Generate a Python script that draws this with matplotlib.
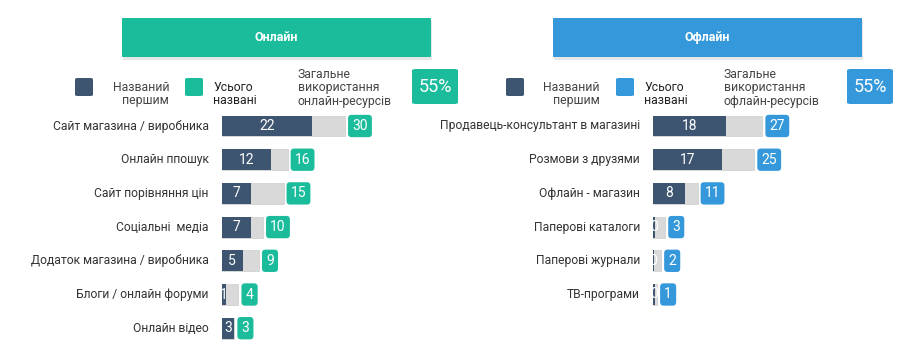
import matplotlib.pyplot as plt
from matplotlib.patches import FancyBboxPatch

plt.rcParams['font.family'] = ['Roboto', 'DejaVu Sans']

# online panel data
online_labels = ["Сайт магазина / виробника", "Онлайн ппошук", "Сайт порівняння цін",
                 "Соціальні  медіа", "Додаток магазина / виробника",
                 "Блоги / онлайн форуми", "Онлайн відео"]
online_first = [22, 12, 7, 7, 5, 1, 3]
online_total = [30, 16, 15, 10, 9, 4, 3]
online_share = "55%"

# offline panel data
offline_labels = ["Продавець-консультант в магазині", "Розмови з друзями",
                  "Офлайн - магазин", "Паперові каталоги", "Паперові журнали",
                  "ТВ-програми"]
offline_first = [18, 17, 8, 0.4, 0.2, 0.4]
offline_total = [27, 25, 11, 3, 2, 1]
offline_share = "55%"

DARK = "#3d5570"
TEAL = "#1abc9c"
BLUE = "#3498db"
GRAY = "#d9d9d9"
TXT = "#333333"

W, H = 907, 358
fig = plt.figure(figsize=(W / 100, H / 100), dpi=100)


def fx(x):
    return x / W


def fy(y):
    return 1 - y / H


def box(x0, y0, x1, y1, color, rad=3, z=1):
    p = FancyBboxPatch((fx(x0), fy(y1)), fx(x1 - x0), (y1 - y0) / H,
                       boxstyle="round,pad=0,rounding_size=%f" % (rad / W),
                       transform=fig.transFigure, facecolor=color,
                       edgecolor="none", zorder=z)
    fig.add_artist(p)


def panel(x0, accent, title, labels, first, total, share, kind, px_unit,
          note_dx, badge_dx):
    # header with a soft shadow
    box(x0 + 1, 20, x0 + 310, 60, "#e6e6e6", rad=1)
    box(x0, 18, x0 + 309, 57, accent, rad=1)
    fig.text(fx(x0 + 154.5), fy(37.5), title, color="white", fontsize=9,
             fontweight="bold", ha="center", va="center")

    # legend row
    lx = x0 - 47
    box(lx, 78, lx + 18, 96, DARK, rad=3)
    fig.text(fx(lx + 94), fy(94), "Названий\nпершим", ha="right", va="center",
             fontsize=8.8, color="#444444", linespacing=1.05)
    box(lx + 110, 78, lx + 128, 96, accent, rad=3)
    fig.text(fx(lx + 138), fy(94), "Усього\nназвані", ha="left", va="center",
             fontsize=8.8, color="#222222", linespacing=1.05)
    fig.text(fx(lx + note_dx), fy(88), "Загальне\nвикористання\n%s-ресурсів" % kind,
             ha="left", va="center", fontsize=8.8, color="#444444", linespacing=1.05)
    box(lx + badge_dx, 69, lx + badge_dx + 46, 104, accent, rad=4)
    fig.text(fx(lx + badge_dx + 23), fy(86.5), share, color="white", fontsize=13,
             ha="center", va="center")

    # bars
    n = len(labels)
    row = 33.7
    top = 126 - row / 2
    bar_x0 = x0 + 100
    width_px = 230
    ax = fig.add_axes([fx(bar_x0), fy(top + n * row), fx(width_px), n * row / H])
    ax.set_xlim(0, width_px / px_unit)
    ax.set_ylim(n - 0.5, -0.5)
    ax.axis("off")
    ys = list(range(n))
    ax.barh(ys, total, height=0.62, color=GRAY, edgecolor="#c4c4c4", linewidth=0.4)
    ax.barh(ys, first, height=0.62, color=DARK)
    for i in ys:
        ax.annotate(labels[i], xy=(0, i), xytext=(-9.5, 0), textcoords="offset points",
                    ha="right", va="center", fontsize=8.7, color=TXT)
        ax.text(first[i] / 2, i, str(round(first[i])), color="white", fontsize=10,
                ha="center", va="center")
        ax.annotate(str(total[i]), xy=(total[i], i), xytext=(5.2, 0),
                    textcoords="offset points", ha="left", va="center",
                    fontsize=10, color="white",
                    bbox=dict(boxstyle="round,pad=0.3,rounding_size=0.25",
                              facecolor=accent, edgecolor="none"))


panel(122, TEAL, "Онлайн", online_labels, online_first, online_total,
      online_share, "онлайн", 4.1, 223, 337)
panel(553, BLUE, "Офлайн", offline_labels, offline_first, offline_total,
      offline_share, "офлайн", 4.05, 218, 341)

fig.savefig("out.png", dpi=100, facecolor="white")
